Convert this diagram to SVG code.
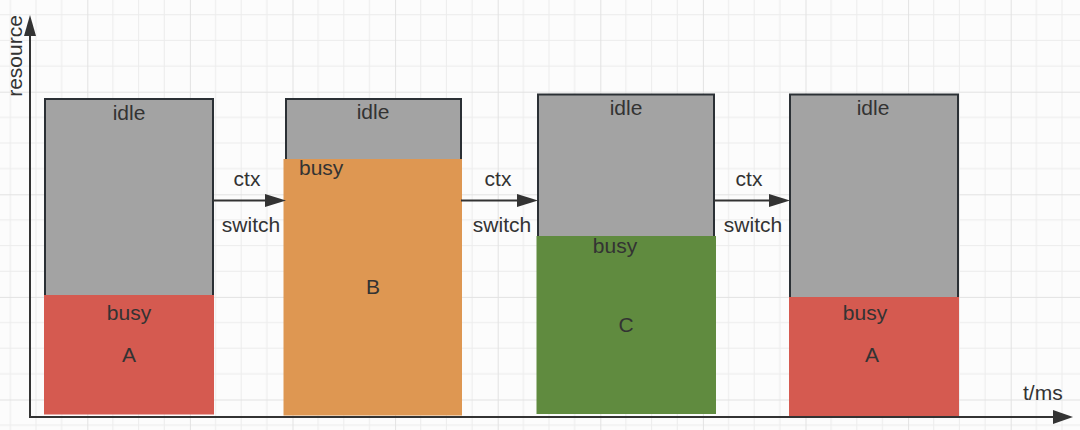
<svg xmlns="http://www.w3.org/2000/svg" width="1080" height="430" viewBox="0 0 1080 430">
  <style>
    .idle { fill: #a3a3a3; stroke: #2b3035; stroke-width: 2; }
    .red { fill: #d55a50; }
    .orange { fill: #de9752; }
    .green { fill: #608b3f; }
    .t { font-family: "Liberation Sans", Arial, sans-serif; font-size: 21px; fill: #333333; text-anchor: middle; }
    .axis { stroke: #333333; stroke-width: 2; fill: none; }
    .head { fill: #333333; }
  </style>
  <defs>
    <pattern id="grid" patternUnits="userSpaceOnUse" x="87.3" y="91.7" width="102.6" height="102.6">
      <path d="M25.65 0V102.6M51.3 0V102.6M76.95 0V102.6M0 25.65H102.6M0 51.3H102.6M0 76.95H102.6" stroke="#ececec" stroke-width="1" fill="none"/>
      <path d="M0 0V102.6M0 0H102.6" stroke="#e2e2e2" stroke-width="2" fill="none"/>
    </pattern>
  </defs>
  <rect width="1080" height="430" fill="#fcfcfc"/>
  <rect width="1080" height="430" fill="url(#grid)"/>

  <g id="block1">
    <rect class="idle" x="45" y="99" width="168" height="314"/>
    <rect class="red" x="44" y="295" width="170" height="119.5"/>
    <text class="t" x="129" y="120">idle</text>
    <text class="t" x="129" y="320">busy</text>
    <text class="t" x="129" y="362">A</text>
  </g>
  <g id="block2">
    <rect class="idle" x="286" y="99" width="175" height="315"/>
    <rect class="orange" x="283.5" y="159" width="178.5" height="256.5"/>
    <text class="t" x="373" y="119">idle</text>
    <text class="t" x="299" y="175" style="text-anchor:start">busy</text>
    <text class="t" x="373" y="294">B</text>
  </g>
  <g id="block3">
    <rect class="idle" x="538" y="94.5" width="176" height="318"/>
    <rect class="green" x="536.5" y="236" width="179.5" height="178"/>
    <text class="t" x="626" y="115">idle</text>
    <text class="t" x="615" y="253">busy</text>
    <text class="t" x="626" y="332">C</text>
  </g>
  <g id="block4">
    <rect class="idle" x="790" y="94.5" width="168" height="319"/>
    <rect class="red" x="789" y="297" width="170" height="119"/>
    <text class="t" x="873" y="115">idle</text>
    <text class="t" x="865" y="320">busy</text>
    <text class="t" x="872" y="362">A</text>
  </g>

  <g id="axes">
    <path class="axis" d="M30 417V34"/>
    <polygon class="head" points="30,15 24,36 36,36"/>
    <path class="axis" d="M29 417H1055"/>
    <polygon class="head" points="1073,417 1053,410 1053,424"/>
    <text class="t" transform="translate(22,56) rotate(-90)">resource</text>
    <text class="t" x="1023" y="400" style="text-anchor:start">t/ms</text>
  </g>

  <g id="connectors">
    <path class="axis" d="M213 200.5H268"/>
    <polygon class="head" points="286,200.5 265,194 265,207"/>
    <text class="t" x="247" y="186">ctx</text>
    <text class="t" x="251" y="232">switch</text>
    <path class="axis" d="M461 200.5H520"/>
    <polygon class="head" points="538,200.5 517,194 517,207"/>
    <text class="t" x="498" y="186">ctx</text>
    <text class="t" x="502" y="232">switch</text>
    <path class="axis" d="M714 200.5H772"/>
    <polygon class="head" points="790,200.5 769,194 769,207"/>
    <text class="t" x="749" y="186">ctx</text>
    <text class="t" x="753" y="232">switch</text>
  </g>
</svg>
